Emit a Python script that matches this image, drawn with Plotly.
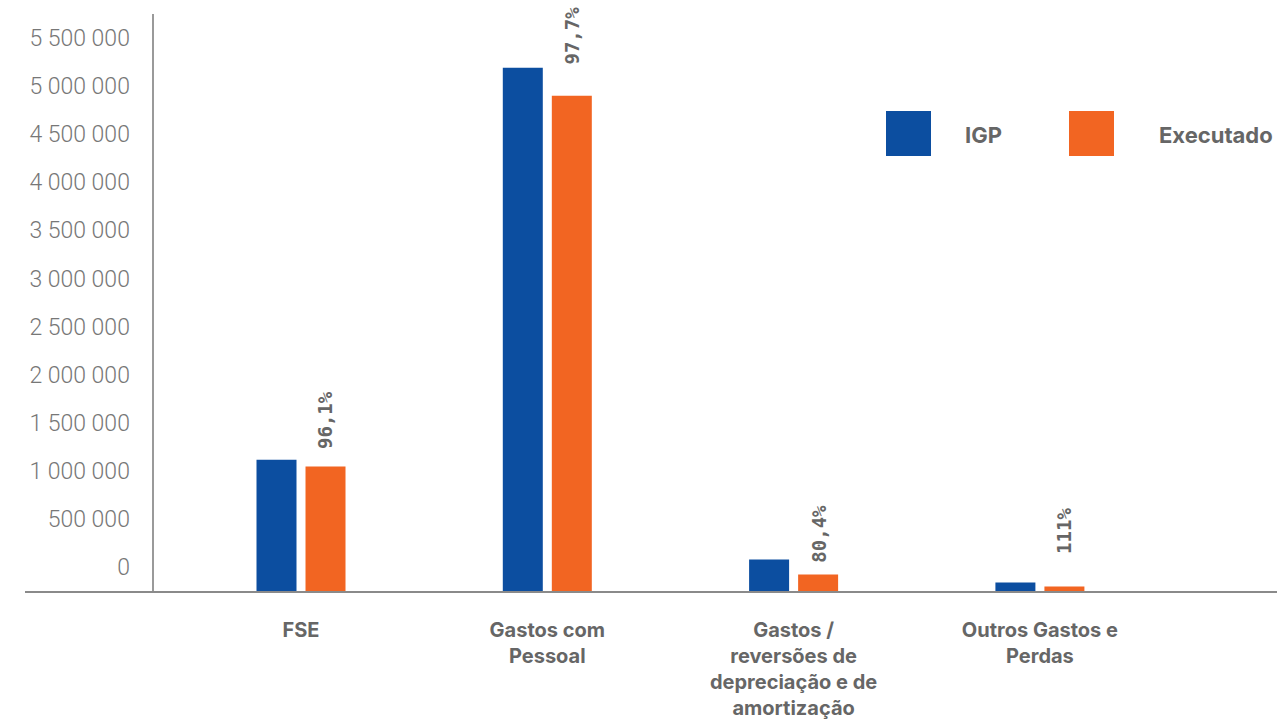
import plotly.graph_objects as go

# Categories and series values (EUR)
categories = [
    "FSE",
    "Gastos com<br>Pessoal",
    "Gastos /<br>reversões de<br>depreciação e de<br>amortização",
    "Outros Gastos e<br>Perdas",
]
igp = [1365000, 5440000, 327000, 88000]
executado = [1295000, 5150000, 171000, 47000]
taxa_execucao = ["96,1%", "97,7%", "80,4%", "111%"]
y_ticks = list(range(0, 5500001, 500000))
y_tick_text = [f"{v:,}".replace(",", " ") for v in y_ticks]

BLUE = "#0C4EA0"
ORANGE = "#F26522"
TEXT = "#666666"

W, H = 1277, 722
M_L, M_R, M_T, M_B = 25, 0, 14, 131
PLOT_W = W - M_L - M_R
PLOT_H = H - M_T - M_B


def px_x(x):
    return (x - M_L) / PLOT_W


def px_y(y):
    return (H - M_B - y) / PLOT_H


fig = go.Figure()
fig.add_bar(x=categories, y=igp, name="IGP", marker_color=BLUE, marker_line_width=0)
fig.add_bar(x=categories, y=executado, name="Executado", marker_color=ORANGE,
            marker_line_width=0)

# Execution rate above each orange bar, rotated
label_lift = [15, 29, 10, 31]
for i, (cat, val, txt) in enumerate(zip(categories, executado, taxa_execucao)):
    fig.add_annotation(
        x=i, y=val, text=f"<b>{txt}</b>", textangle=-90, showarrow=False,
        xanchor="center", yanchor="bottom", xshift=24.5, yshift=label_lift[i],
        font=dict(family="DejaVu Sans Mono", size=19, color=TEXT),
    )

# Legend drawn as large swatches with labels
for x0, text_x, color, label in [(886, 963, BLUE, "IGP"), (1069, 1157, ORANGE, "Executado")]:
    fig.add_shape(type="rect", xref="paper", yref="paper",
                  x0=px_x(x0), x1=px_x(x0 + 45), y0=px_y(156), y1=px_y(111),
                  fillcolor=color, line_width=0)
    fig.add_annotation(xref="paper", yref="paper", x=px_x(text_x), y=px_y(135),
                       text=label, showarrow=False, xanchor="left", yanchor="middle",
                       font=dict(family="Inter", size=22, color=TEXT, weight="bold"))

fig.update_layout(
    width=W, height=H,
    margin=dict(l=M_L, r=M_R, t=M_T, b=M_B, pad=0),
    paper_bgcolor="white", plot_bgcolor="white",
    barmode="group", bargap=0.602, bargroupgap=0.184,
    showlegend=False,
    xaxis=dict(
        range=[-1.1206, 3.9626], showgrid=False, zeroline=False, automargin=False,
        showline=True, linecolor="#8a8a8a", linewidth=2,
        ticks="", ticklabelstandoff=20,
        tickfont=dict(family="Inter", size=20, color=TEXT, weight="bold"),
    ),
    yaxis=dict(
        range=[0, 6000000], anchor="free", position=px_x(152.5),
        showgrid=False, zeroline=False, automargin=False,
        showline=True, linecolor="#9a9a9a", linewidth=2,
        tickvals=y_ticks, ticktext=y_tick_text, ticks="",
        ticklabelshift=-24, ticklabelstandoff=17,
        tickfont=dict(family="Roboto", size=23, color="#777777", weight=300),
    ),
)

fig.write_html("out.html")
